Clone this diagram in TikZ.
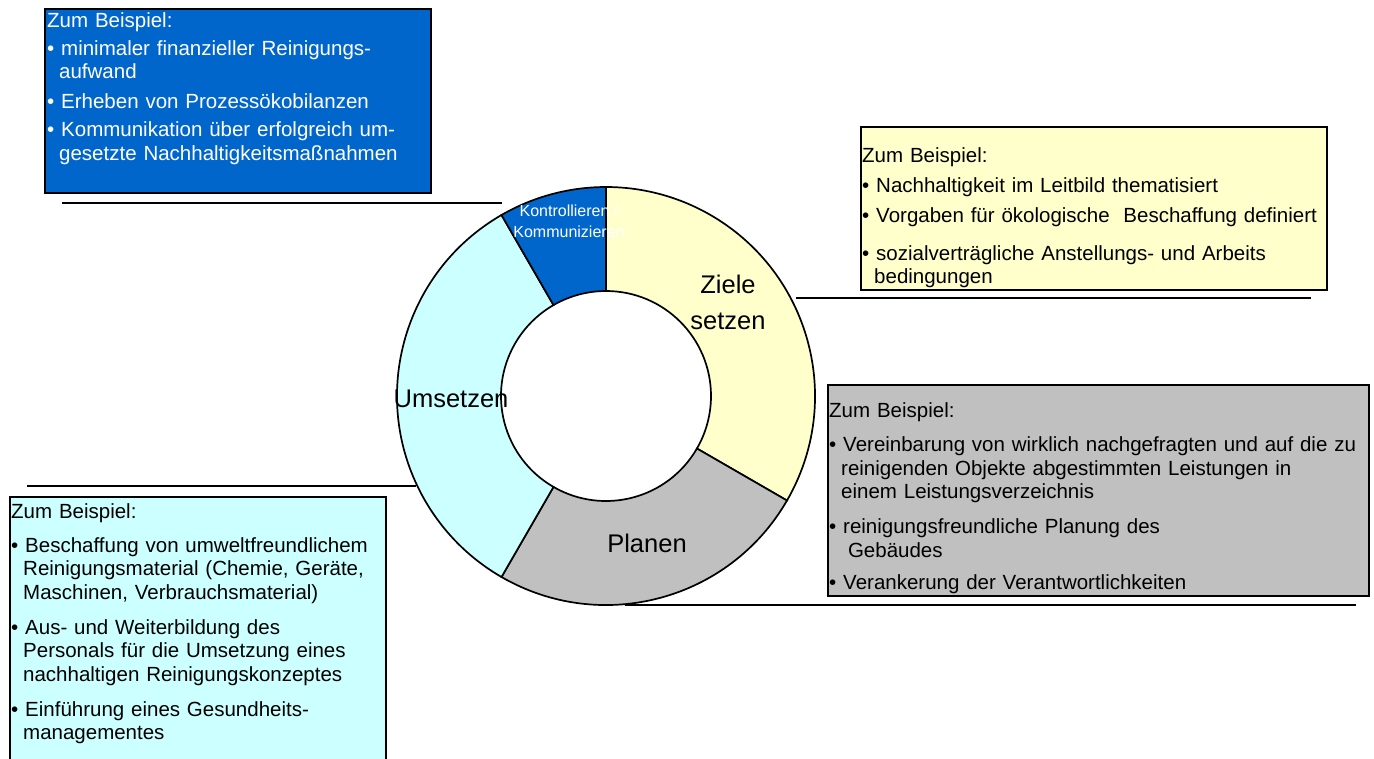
\documentclass[tikz,border=0pt]{standalone}
\usepackage{fontspec}
\setmainfont{Liberation Sans}

\definecolor{kontrollBlue}{HTML}{0066CC}
\definecolor{zieleYellow}{HTML}{FFFFCC}
\definecolor{planGray}{HTML}{C0C0C0}
\definecolor{umsetzCyan}{HTML}{CCFFFF}

\newcommand{\bpoint}{\textbullet\ }
\newcommand{\bcont}{\hspace*{12pt}}

\begin{document}
\begin{tikzpicture}[x=1pt, y=-1pt,
	box/.style={draw=black, line width=1.2pt, anchor=north west, inner sep=0pt, outer sep=0pt},
	boxtext/.style={anchor=base west, inner sep=0pt, text width=560pt, align=left, font=\fontsize{20.5}{23.5}\selectfont},
	leader/.style={line width=1.6pt},
	ring/.style={draw=black, line width=1.7pt},
	ringlabel/.style={anchor=base, inner sep=0pt, font=\fontsize{25.5}{30}\selectfont}]

	\useasboundingbox (0,0) rectangle (1374,758);

	    % Ring
	    \begin{scope}[shift={(606,396)}, y=1pt]
		    \filldraw[ring, fill=zieleYellow] (-30:209) arc[start angle=-30, end angle=90, radius=209] -- (90:105) arc[start angle=90, end angle=-30, radius=105] -- cycle;
		    \filldraw[ring, fill=planGray] (240:209) arc[start angle=240, end angle=330, radius=209] -- (330:105) arc[start angle=330, end angle=240, radius=105] -- cycle;
		    \filldraw[ring, fill=umsetzCyan] (120:209) arc[start angle=120, end angle=240, radius=209] -- (240:105) arc[start angle=240, end angle=120, radius=105] -- cycle;
		    \filldraw[ring, fill=kontrollBlue] (90:209) arc[start angle=90, end angle=120, radius=209] -- (120:105) arc[start angle=120, end angle=90, radius=105] -- cycle;
	    \end{scope}

	    \node[ringlabel] (z1) at (728,293) {Ziele};
	    \node[ringlabel] (z2) at (728,329) {setzen};
	    \node[ringlabel] (u) at (451,407) {Umsetzen};
	    \node[ringlabel] (p) at (647,552) {Planen};
	    \node[anchor=base, inner sep=0pt, text=white, font=\fontsize{16}{20}\selectfont] (k1) at (569,216) {Kontrollieren /};
	    \node[anchor=base, inner sep=0pt, text=white, font=\fontsize{16}{20}\selectfont] (k2) at (569,237) {Kommunizieren};


	    % Kontrollieren / Kommunizieren
	    \node[box, fill=kontrollBlue, minimum width=386pt, minimum height=184pt] (kb) at (45,9) {};
	    \node[boxtext, text=white] (kt) at (47,27) {Zum Beispiel:\\[4.5pt]
		    \bpoint minimaler finanzieller Reinigungs-\\
		    \bcont aufwand\\[6pt]
		    \bpoint Erheben von Prozessökobilanzen\\[5pt]
		    \bpoint Kommunikation über erfolgreich um-\\
		    \bcont gesetzte Nachhaltigkeitsmaßnahmen};
	    \coordinate (kl) at (62,203);
	    \coordinate (kr) at (502,203);
	    \draw[leader] (kl) -- (kr);


	    % Ziele setzen
	    \node[box, fill=zieleYellow, minimum width=466pt, minimum height=163pt] (zb) at (861,127) {};
	    \node[boxtext] (zt) at (862,162) {Zum Beispiel:\\[6.5pt]
		    \bpoint Nachhaltigkeit im Leitbild thematisiert\\[6.5pt]
		    \bpoint Vorgaben für ökologische\ \ Beschaffung definiert\\[14.5pt]
		    \bpoint sozialverträgliche Anstellungs- und Arbeits\\
		    \bcont bedingungen};
	    \coordinate (zl) at (796,298);
	    \coordinate (zr) at (1311,298);
	    \draw[leader] (zl) -- (zr);


	    % Planen
	    \node[box, fill=planGray, minimum width=541pt, minimum height=211pt] (pb) at (828,385) {};
	    \node[boxtext] (pt) at (829,417) {Zum Beispiel:\\[11pt]
		    \bpoint Vereinbarung von wirklich nachgefragten und auf die zu\\
		    \bcont reinigenden Objekte abgestimmten Leistungen in\\
		    \bcont einem Leistungsverzeichnis\\[11.5pt]
		    \bpoint reinigungsfreundliche Planung des\\
		    \bcont\ Gebäudes\\[8.5pt]
		    \bpoint Verankerung der Verantwortlichkeiten};
	    \coordinate (pl) at (625,605);
	    \coordinate (pr) at (1356,605);
	    \draw[leader] (pl) -- (pr);


	    % Umsetzen
	    \node[box, fill=umsetzCyan, minimum width=376pt, minimum height=280pt] (ub) at (10,497) {};
	    \node[boxtext] (ut) at (11,518) {Zum Beispiel:\\[10.5pt]
		    \bpoint Beschaffung von umweltfreundlichem\\
		    \bcont Reinigungsmaterial (Chemie, Geräte,\\
		    \bcont Maschinen, Verbrauchsmaterial)\\[11.5pt]
		    \bpoint Aus- und Weiterbildung des\\
		    \bcont Personals für die Umsetzung eines\\
		    \bcont nachhaltigen Reinigungskonzeptes\\[11.5pt]
		    \bpoint Einführung eines Gesundheits-\\
		    \bcont managementes};
	    \coordinate (ul) at (27,486);
	    \coordinate (ur) at (416,486);
	    \draw[leader] (ul) -- (ur);

\end{tikzpicture}
\end{document}
